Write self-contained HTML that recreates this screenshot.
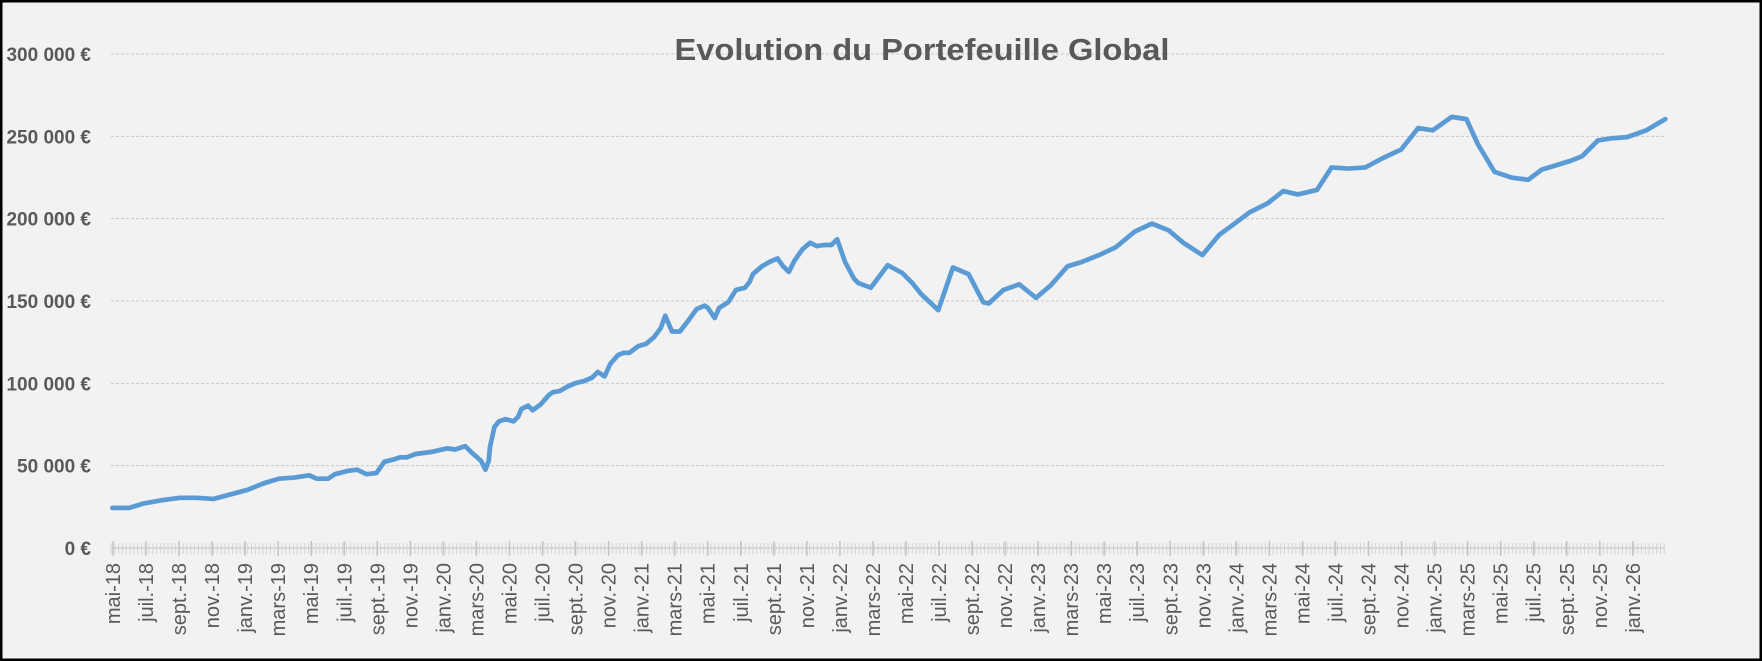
<!DOCTYPE html>
<html><head><meta charset="utf-8"><style>
html,body{margin:0;padding:0;background:#f2f2f2}
svg{display:block}
</style></head><body>
<svg id="c" width="1762" height="661" xmlns="http://www.w3.org/2000/svg" font-family="Liberation Sans, sans-serif">
<rect x="0" y="0" width="1762" height="661" fill="#f2f2f2"/>
<rect x="1" y="1" width="1760" height="659" fill="none" stroke="#000" stroke-width="3"/>
<g id="grid"></g>
<text x="922" y="60" text-anchor="middle" font-size="31" font-weight="bold" fill="#595959" textLength="495" lengthAdjust="spacingAndGlyphs">Evolution du Portefeuille Global</text>
<g transform="scale(1.1237)">
<polyline fill="none" stroke="#5b9bd5" stroke-width="4.2" stroke-linejoin="round" stroke-linecap="round" points="100,452 115,452 128,448 145,445 160,443 175,443 190,444 205,440 220,436 235,430 248,426 262,425 275,423 282,426 292,426 298,422 310,419 318,418 326,422 335,421 342,411 350,409 356,407 362,407 370,404 385,402 398,399 405,400 414,397 420,403 428,410 432,418 435,410 436,398 440,380 444,375 450,373 457,375 461,371 464,364 470,361 474,365 481,360 488,352 492,349 498,348 505,344 512,341 520,339 527,336 532,331 538,335 543,324 550,316 555,314 560,314 568,308 575,306 582,300 588,292 592,281 598,295 605,295 612,286 620,275 627,272 630,274 636,283 640,274 648,269 655,258 663,256 667,251 670,244 678,237 685,233 692,230 697,237 702,242 707,232 714,222 721,216 727,219 734,218 740,218 745,213 752,233 760,248 764,252 775,256 790,236 803,243 812,252 820,262 835,276 848,238 862,244 875,269 880,270 893,258 907,253 922,265 935,254 950,237 963,233 978,227 993,220 1010,206 1025,199 1040,205 1053,216 1070,227 1085,209 1100,198 1112,189 1128,181 1142,170 1155,173 1172,169 1185,149 1200,150 1215,149 1230,141 1247,133 1262,114 1275,116 1292,104 1305,106 1315,128 1330,153 1345,158 1360,160 1372,151 1385,147 1398,143 1408,139 1422,125 1435,123 1448,122 1465,116 1482,106"/>
</g>
<g id="xl"></g>
</svg>
<script>
var NS="http://www.w3.org/2000/svg";
function el(t,a,txt){var e=document.createElementNS(NS,t);for(var k in a)e.setAttribute(k,a[k]);if(txt)e.textContent=txt;return e;}
var g=document.getElementById('grid');
var ylab=["0 €","50 000 €","100 000 €","150 000 €","200 000 €","250 000 €","300 000 €"];
for(var i=0;i<7;i++){var y=548-i*82.33;
 if(i>0)g.appendChild(el('line',{x1:111,x2:1664,y1:y,y2:y,stroke:'#c8c8c8','stroke-width':1,'stroke-dasharray':'3,2'}));
 g.appendChild(el('text',{x:91,y:y+7,'text-anchor':'end','font-size':19,'font-weight':'bold',fill:'#595959'},ylab[i]));}
g.appendChild(el('line',{x1:111,x2:1664,y1:548,y2:548,stroke:'#d0d0d0','stroke-width':1.5}));
var step=16.52;
for(var x=111;x<=1665;x+=step/4.35){g.appendChild(el('line',{x1:x,x2:x,y1:543,y2:554,stroke:'#d4d4d4','stroke-width':1}));}
var xl=document.getElementById('xl');
var mn=["mai","juil.","sept.","nov.","janv.","mars"];
var yr=18,idx=0;
for(var k=0;k<=46;k++){
 var m=mn[idx];var x=113+step*2*k;
 g.appendChild(el('line',{x1:x,x2:x,y1:541,y2:556,stroke:'#c4c4c4','stroke-width':1.5}));
 var t=el('text',{x:0,y:0,'text-anchor':'end','font-size':20,fill:'#595959',transform:'translate('+(x+7)+',563) rotate(-90)'},m+"-"+yr);
 xl.appendChild(t);
 idx++;if(idx==4)yr++;if(idx==6)idx=0;
}
</script>
</body></html>
